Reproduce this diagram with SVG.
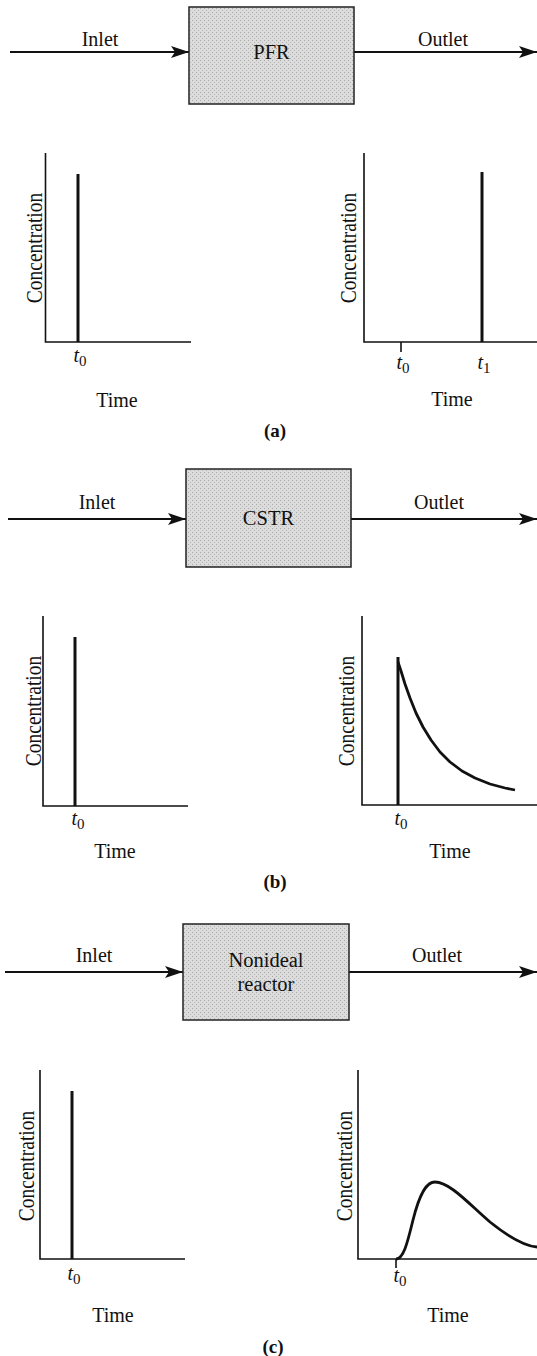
<svg xmlns="http://www.w3.org/2000/svg" width="537" height="1356" viewBox="0 0 537 1356">
<style>
text{font-family:"Liberation Serif","Times New Roman",serif;font-size:20px;fill:#111}
.c{text-anchor:middle}
.box{fill:#d5d5d5;stroke:#222;stroke-width:1.5}
.flow{stroke:#111;stroke-width:2.2;fill:none}
.axis{stroke:#111;stroke-width:1.6;fill:none}
.spike{stroke:#111;stroke-width:3;fill:none}
.curve{stroke:#111;stroke-width:2.8;fill:none;stroke-linejoin:round}
.conc{font-size:19.5px}
.it{font-style:italic}
.sub{font-style:normal;font-size:15px}
.cap{font-weight:bold;font-size:19px}
.blabel{font-size:20.5px}
</style>
<defs>
<marker id="arr" markerUnits="userSpaceOnUse" markerWidth="19" markerHeight="13" refX="18" refY="6.5" orient="auto">
<path d="M0,0.5 L18,6.5 L0,12.5 L4,6.5 z" fill="#111"/>
</marker>
<pattern id="stip" width="4" height="4" patternUnits="userSpaceOnUse">
<rect width="4" height="4" fill="#dcdcdc"/>
<rect x="0" y="0" width="1" height="1" fill="#a8a8a8"/>
<rect x="2" y="2" width="1" height="1" fill="#b4b4b4"/>
</pattern>
</defs>

<g id="connectors">
<line class="flow" x1="10" y1="52" x2="189" y2="52" marker-end="url(#arr)"/>
<line class="flow" x1="354" y1="52" x2="537" y2="52" marker-end="url(#arr)"/>
<line class="flow" x1="8" y1="519" x2="186" y2="519" marker-end="url(#arr)"/>
<line class="flow" x1="351" y1="519" x2="537" y2="519" marker-end="url(#arr)"/>
<line class="flow" x1="5" y1="972" x2="183" y2="972" marker-end="url(#arr)"/>
<line class="flow" x1="349" y1="972" x2="537" y2="972" marker-end="url(#arr)"/>
</g>

<!-- (a) -->
<g id="labels-a">
<text class="c" x="100" y="46">Inlet</text>
<text class="c" x="443" y="46">Outlet</text>
</g>
<g id="pfr">
<rect class="box" x="189" y="7" width="165" height="97" style="fill:url(#stip)"/>
<text class="c blabel" x="271.5" y="59">PFR</text>
</g>
<g id="plot-a-in">
<path class="axis" d="M45.5,153 V342 H191"/>
<line class="spike" x1="78" y1="174" x2="78" y2="342"/>
<text class="c conc" transform="translate(41.5,248) rotate(-90) scale(1,1.2)">Concentration</text>
<text class="c it" x="80" y="362">t<tspan class="sub" dy="4">0</tspan></text>
<text class="c" x="117" y="407">Time</text>
</g>
<g id="plot-a-out">
<path class="axis" d="M364,153 V342 H537"/>
<line class="spike" x1="482" y1="172" x2="482" y2="342"/>
<line class="axis" x1="401" y1="342" x2="401" y2="352"/>
<text class="c conc" transform="translate(356,248) rotate(-90) scale(1,1.2)">Concentration</text>
<text class="c it" x="403" y="369">t<tspan class="sub" dy="4">0</tspan></text>
<text class="c it" x="484" y="369">t<tspan class="sub" dy="4">1</tspan></text>
<text class="c" x="452" y="406">Time</text>
</g>
<text class="c cap" x="275" y="437">(a)</text>

<!-- (b) -->
<g id="labels-b">
<text class="c" x="97" y="509">Inlet</text>
<text class="c" x="439" y="509">Outlet</text>
</g>
<g id="cstr">
<rect class="box" x="186" y="469" width="165" height="98" style="fill:url(#stip)"/>
<text class="c blabel" x="268.5" y="525">CSTR</text>
</g>
<g id="plot-b-in">
<path class="axis" d="M43,616 V806 H188"/>
<line class="spike" x1="75" y1="637" x2="75" y2="806"/>
<text class="c conc" transform="translate(41,711) rotate(-90) scale(1,1.2)">Concentration</text>
<text class="c it" x="78" y="825">t<tspan class="sub" dy="4">0</tspan></text>
<text class="c" x="115" y="858">Time</text>
</g>
<g id="plot-b-out">
<path class="axis" d="M362,616 V805 H537"/>
<line class="spike" x1="398" y1="657" x2="398" y2="805"/>
<polyline class="curve" points="398,662 401,671 405,684 410,698 416,713 423,727 431,740 440,752 450,762 462,771 475,778 490,784 505,788 515,790"/>
<text class="c conc" transform="translate(354,711) rotate(-90) scale(1,1.2)">Concentration</text>
<text class="c it" x="401" y="825">t<tspan class="sub" dy="4">0</tspan></text>
<text class="c" x="450" y="858">Time</text>
</g>
<text class="c cap" x="275" y="888">(b)</text>

<!-- (c) -->
<g id="labels-c">
<text class="c" x="94" y="962">Inlet</text>
<text class="c" x="437" y="962">Outlet</text>
</g>
<g id="nonideal">
<rect class="box" x="183" y="924" width="166" height="96" style="fill:url(#stip)"/>
<text class="c blabel" x="266" y="967">Nonideal</text>
<text class="c blabel" x="266" y="991">reactor</text>
</g>
<g id="plot-c-in">
<path class="axis" d="M40,1070 V1259 H185"/>
<line class="spike" x1="72" y1="1091" x2="72" y2="1259"/>
<text class="c conc" transform="translate(33.5,1166) rotate(-90) scale(1,1.2)">Concentration</text>
<text class="c it" x="74" y="1280">t<tspan class="sub" dy="4">0</tspan></text>
<text class="c" x="113" y="1322">Time</text>
</g>
<g id="plot-c-out">
<path class="axis" d="M358,1070 V1259 H537"/>
<line class="axis" x1="396" y1="1259" x2="396" y2="1268"/>
<path class="curve" d="M396,1259 C404,1259 408,1240 413,1220 C420,1192 427,1182 435,1182 C450,1182 470,1205 490,1222 C510,1238 525,1246 537,1247"/>
<text class="c conc" transform="translate(352,1166) rotate(-90) scale(1,1.2)">Concentration</text>
<text class="c it" x="400" y="1282">t<tspan class="sub" dy="4">0</tspan></text>
<text class="c" x="448" y="1322">Time</text>
</g>
<text class="c cap" x="273" y="1353">(c)</text>
</svg>
